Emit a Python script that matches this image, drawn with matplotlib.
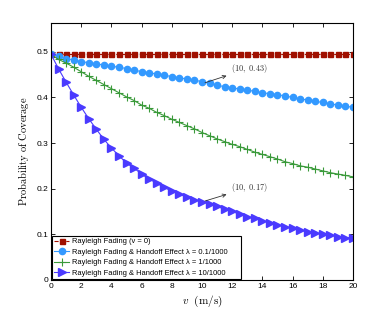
import numpy as np
import matplotlib
matplotlib.use("Agg")
import matplotlib.pyplot as plt

plt.rcParams["font.family"] = ["Liberation Sans", "DejaVu Sans"]
plt.rcParams["mathtext.fontset"] = "cm"

# %% data (speed step 0.5 m/s)
v = np.arange(0, 20.01, 0.5)

p_fading = [0.495] * len(v)

p_lam01 = [0.495, 0.490, 0.485, 0.482, 0.478, 0.476, 0.473, 0.471, 0.468, 0.466,
           0.463, 0.460, 0.456, 0.454, 0.451, 0.449, 0.445, 0.443, 0.440, 0.438,
           0.434, 0.431, 0.427, 0.423, 0.421, 0.418, 0.416, 0.413, 0.410, 0.408,
           0.406, 0.403, 0.400, 0.397, 0.394, 0.391, 0.389, 0.386, 0.383, 0.381,
           0.378]

p_lam1 = [0.494, 0.483, 0.475, 0.466, 0.456, 0.446, 0.437, 0.428, 0.419, 0.410,
          0.401, 0.393, 0.383, 0.376, 0.367, 0.360, 0.352, 0.345, 0.338, 0.331,
          0.323, 0.316, 0.309, 0.303, 0.297, 0.292, 0.286, 0.280, 0.275, 0.270,
          0.265, 0.259, 0.255, 0.250, 0.247, 0.243, 0.239, 0.235, 0.232, 0.229,
          0.226]

p_lam10 = [0.494, 0.462, 0.433, 0.405, 0.378, 0.353, 0.330, 0.308, 0.289, 0.272,
           0.256, 0.245, 0.232, 0.221, 0.212, 0.203, 0.194, 0.188, 0.181, 0.176,
           0.171, 0.167, 0.161, 0.155, 0.150, 0.144, 0.139, 0.135, 0.130, 0.125,
           0.121, 0.117, 0.113, 0.109, 0.106, 0.103, 0.100, 0.098, 0.095, 0.093,
           0.092]

labels = ["Rayleigh Fading (v = 0)",
          "Rayleigh Fading & Handoff Effect λ = 0.1/1000",
          "Rayleigh Fading & Handoff Effect λ = 1/1000",
          "Rayleigh Fading & Handoff Effect λ = 10/1000"]

# %% plot
fig = plt.figure(figsize=(3.9, 3.16), dpi=100)
ax = fig.add_axes([0.131, 0.114, 0.774, 0.812])

ax.plot(v, p_fading, "--s", color="#a01000", lw=0.8, ms=3.6, label=labels[0])
ax.plot(v, p_lam01, "-o", color="#3399ff", mec="#3399ff", lw=0.8, ms=4.5, label=labels[1])
ax.plot(v, p_lam1, "-+", color="#3a9a3a", lw=0.8, ms=5.2, mew=0.8, label=labels[2])
ax.plot(v, p_lam10, "->", color="#4a3aff", mec="#4a3aff", lw=0.8, ms=5.2, label=labels[3])

ax.set_xlim(0, 20)
ax.set_ylim(0, 0.562)
ax.set_xticks(np.arange(0, 21, 2))
ax.set_yticks([0, 0.1, 0.2, 0.3, 0.4, 0.5])
ax.set_yticklabels(["0", "0.1", "0.2", "0.3", "0.4", "0.5"])
ax.tick_params(direction="in", top=True, right=True, labelsize=6, length=3, width=0.6, pad=2)
for s in ax.spines.values():
    s.set_linewidth(0.8)

ax.set_xlabel(r"$v\ \ \mathrm{(m/s)}$", fontsize=8, labelpad=3)
ax.set_ylabel(r"$\mathrm{Probability\ of\ Coverage}$", fontsize=7.5, labelpad=4)

ax.annotate(r"$(10,\ 0.43)$", xy=(10.2, 0.432), xytext=(11.9, 0.458), fontsize=6,
            color="#333333",
            arrowprops=dict(arrowstyle="<-", color="#333333", lw=0.6, shrinkA=1, shrinkB=0))
ax.annotate(r"$(10,\ 0.17)$", xy=(10.2, 0.173), xytext=(11.9, 0.197), fontsize=6,
            color="#333333",
            arrowprops=dict(arrowstyle="<-", color="#333333", lw=0.6, shrinkA=1, shrinkB=0))

leg = ax.legend([*ax.get_lines()], [lab + "     " for lab in labels],
                loc="lower left", fontsize=5.4, handlelength=2.0, borderaxespad=0.1,
                labelspacing=0.42, borderpad=0.35, handletextpad=0.4, fancybox=False,
                framealpha=1, edgecolor="black")
leg.get_frame().set_linewidth(0.8)

fig.savefig("out.png", dpi=100)
